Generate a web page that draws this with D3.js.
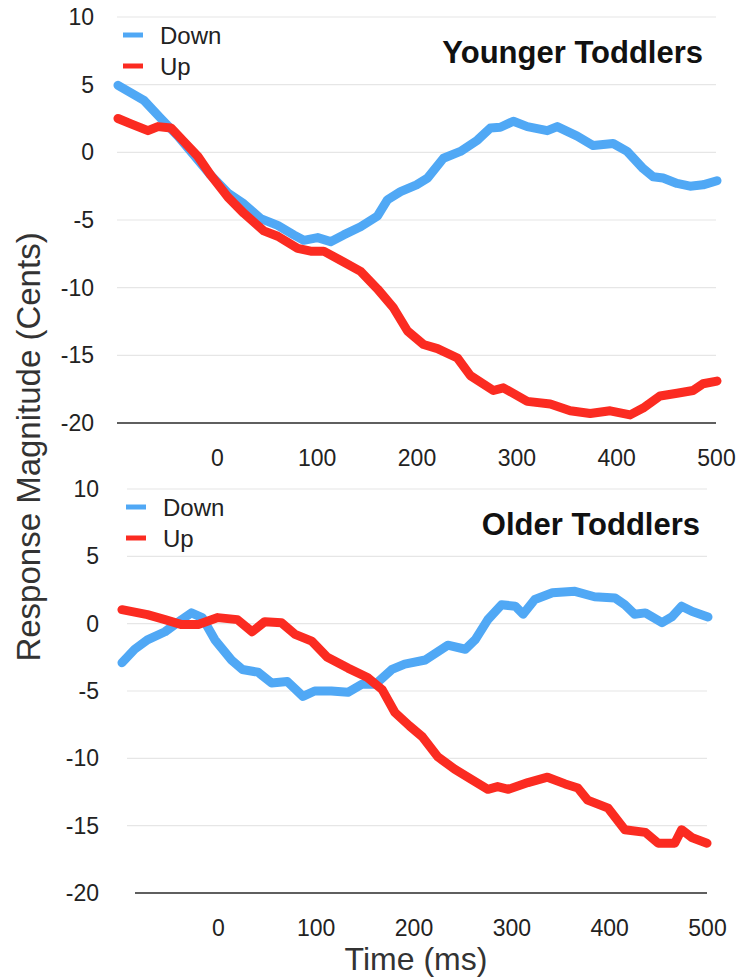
<!DOCTYPE html>
<html>
<head>
<meta charset="utf-8">
<script src="https://cdn.jsdelivr.net/npm/d3@7.9.0/dist/d3.min.js"></script>
<style>
  body { margin: 0; background: #fff; }
  svg { display: block; font-family: "Liberation Sans", Arial, Helvetica, sans-serif; }
</style>
</head>
<body>
<div id="chart"></div>
<script>
// time (ms) / response (cents) pairs
const youngerDown = [
  [-99, 4.95], [-86, 4.4], [-73, 3.84], [-56, 2.5], [-39, 1.2], [-23, -0.2], [-6, -1.7],
  [11, -3.0], [27, -3.8], [44, -4.9], [61, -5.4], [77, -6.1], [87, -6.5], [101, -6.3],
  [114, -6.6], [127, -6.1], [144, -5.5], [161, -4.7], [171, -3.5], [184, -2.9], [200, -2.4],
  [211, -1.9], [227, -0.44], [244, 0.07], [261, 0.9], [274, 1.8], [284, 1.85], [297, 2.3],
  [311, 1.9], [331, 1.6], [341, 1.9], [361, 1.2], [377, 0.5], [397, 0.65], [411, 0.07],
  [427, -1.2], [437, -1.8], [447, -1.9], [461, -2.3], [474, -2.5], [487, -2.4], [501, -2.1]
];
const youngerUp = [
  [-99, 2.5], [-86, 2.1], [-69, 1.6], [-59, 1.9], [-46, 1.8], [-33, 0.8], [-19, -0.3],
  [-6, -1.7], [11, -3.3], [27, -4.5], [47, -5.8], [61, -6.2], [81, -7.1], [94, -7.3],
  [107, -7.3], [127, -8.1], [144, -8.8], [161, -10.1], [177, -11.5], [191, -13.2],
  [207, -14.2], [221, -14.5], [241, -15.2], [254, -16.5], [277, -17.6], [287, -17.4],
  [311, -18.4], [334, -18.6], [354, -19.1], [374, -19.3], [394, -19.1], [414, -19.4],
  [427, -18.9], [444, -18.0], [461, -17.8], [477, -17.6], [487, -17.1], [501, -16.9]
];
const olderDown = [
  [-98, -2.9], [-85, -1.9], [-72, -1.2], [-54, -0.6], [-37, 0.3], [-27, 0.8], [-16, 0.45],
  [-3, -1.2], [14, -2.7], [25, -3.4], [41, -3.6], [55, -4.4], [71, -4.3], [87, -5.4],
  [99, -5.0], [116, -5.0], [133, -5.1], [147, -4.5], [161, -4.5], [178, -3.4], [191, -3.0],
  [212, -2.7], [235, -1.6], [253, -1.9], [263, -1.2], [276, 0.3], [290, 1.4], [304, 1.3],
  [312, 0.7], [324, 1.8], [342, 2.3], [365, 2.4], [385, 2.0], [406, 1.9], [416, 1.4],
  [426, 0.7], [437, 0.8], [454, 0.07], [464, 0.5], [474, 1.3], [485, 0.9], [501, 0.5]
];
const olderUp = [
  [-98, 1.04], [-72, 0.67], [-54, 0.3], [-37, -0.07], [-20, -0.07], [0, 0.45], [20, 0.3],
  [35, -0.6], [48, 0.15], [65, 0.07], [79, -0.8], [96, -1.3], [112, -2.5], [133, -3.3],
  [153, -4.0], [168, -4.9], [181, -6.6], [196, -7.6], [209, -8.4], [225, -9.9], [242, -10.8],
  [260, -11.6], [276, -12.3], [286, -12.1], [297, -12.3], [317, -11.8], [337, -11.4],
  [355, -11.9], [368, -12.2], [378, -13.1], [399, -13.7], [416, -15.3], [437, -15.5],
  [450, -16.3], [467, -16.3], [474, -15.3], [485, -15.9], [500, -16.3]
];

const xTicks = [0, 100, 200, 300, 400, 500];
const yTicks = [-20, -15, -10, -5, 0, 5, 10];
const seriesNames = ['Down', 'Up'];
const colors = { Down: '#50a8f5', Up: '#fb2b21' };

const width = 739, height = 979;

const svg = d3.select('#chart')
  .append('svg')
  .attr('width', width)
  .attr('height', height);

function drawPanel(cfg) {
  const x = d3.scaleLinear().domain([-100, 500]).range([cfg.left, cfg.right]);
  const y = d3.scaleLinear().domain([-20, 10]).range([cfg.bottom, cfg.top]);
  const g = svg.append('g');

  // gridlines
  g.selectAll('line.grid')
    .data(yTicks.filter(d => d > -20))
    .join('line')
    .attr('class', 'grid')
    .attr('x1', cfg.gridLeft).attr('x2', cfg.right)
    .attr('y1', d => y(d)).attr('y2', d => y(d))
    .attr('stroke', '#e6e6e6')
    .attr('stroke-width', 1.2);

  // x axis (only the base line + labels)
  const xAxis = g.append('g')
    .attr('transform', `translate(0, ${y(-20)})`)
    .call(d3.axisBottom(x).tickValues(xTicks).tickSize(0).tickPadding(27)
      .tickFormat(d => String(d)));
  xAxis.select('.domain').attr('stroke', '#2a2a2a').attr('stroke-width', 1.6)
    .attr('d', `M${cfg.axisLeft},0H${cfg.right}`);
  xAxis.selectAll('text')
    .attr('font-size', 23).attr('fill', '#222')
    .attr('font-family', '"Liberation Sans", Arial, sans-serif');

  // y axis labels only (plain hyphen, like the original)
  const yAxis = g.append('g')
    .attr('transform', `translate(${cfg.labelX}, 0)`)
    .call(d3.axisLeft(y).tickValues(yTicks).tickSize(0).tickPadding(0)
      .tickFormat(d => String(d)));
  yAxis.select('.domain').remove();
  yAxis.selectAll('text')
    .attr('font-size', 23).attr('fill', '#222')
    .attr('font-family', '"Liberation Sans", Arial, sans-serif');

  const line = d3.line()
    .x(d => x(d[0]))
    .y(d => y(d[1]));

  cfg.series.forEach(s => {
    g.append('path')
      .datum(s.data)
      .attr('fill', 'none')
      .attr('stroke', colors[s.name])
      .attr('stroke-width', 9)
      .attr('stroke-linejoin', 'round')
      .attr('stroke-linecap', 'round')
      .attr('d', line);
  });

  // legend
  const leg = g.selectAll('g.legend')
    .data(seriesNames)
    .join('g')
    .attr('class', 'legend')
    .attr('transform', (d, i) => `translate(${cfg.left + 6}, ${cfg.legendY + i * 31})`);
  leg.append('line')
    .attr('x1', 0).attr('x2', 20)
    .attr('stroke', d => colors[d])
    .attr('stroke-width', 5);
  leg.append('text')
    .attr('x', 37).attr('y', 9)
    .attr('font-size', 24)
    .attr('fill', '#222')
    .text(d => d);

  g.append('text')
    .attr('x', cfg.titleX).attr('y', cfg.titleY)
    .attr('text-anchor', 'end')
    .attr('font-size', 31)
    .attr('font-weight', 'bold')
    .attr('fill', '#111')
    .text(cfg.title);
}

drawPanel({
  title: 'Younger Toddlers',
  left: 117, right: 716, gridLeft: 117, axisLeft: 117, top: 17, bottom: 423,
  labelX: 94, legendY: 35, titleX: 703, titleY: 63,
  series: [{ name: 'Down', data: youngerDown }, { name: 'Up', data: youngerUp }]
});

drawPanel({
  title: 'Older Toddlers',
  left: 120, right: 707, gridLeft: 127, axisLeft: 135, top: 489, bottom: 893,
  labelX: 99, legendY: 507, titleX: 700, titleY: 535,
  series: [{ name: 'Down', data: olderDown }, { name: 'Up', data: olderUp }]
});

// axis titles
svg.append('text')
  .attr('x', 416).attr('y', 970)
  .attr('text-anchor', 'middle')
  .attr('font-size', 32)
  .attr('fill', '#333')
  .text('Time (ms)');

svg.append('text')
  .attr('transform', 'translate(40, 447) rotate(-90)')
  .attr('text-anchor', 'middle')
  .attr('font-size', 33)
  .attr('fill', '#333')
  .text('Response Magnitude (Cents)');
</script>
</body>
</html>
